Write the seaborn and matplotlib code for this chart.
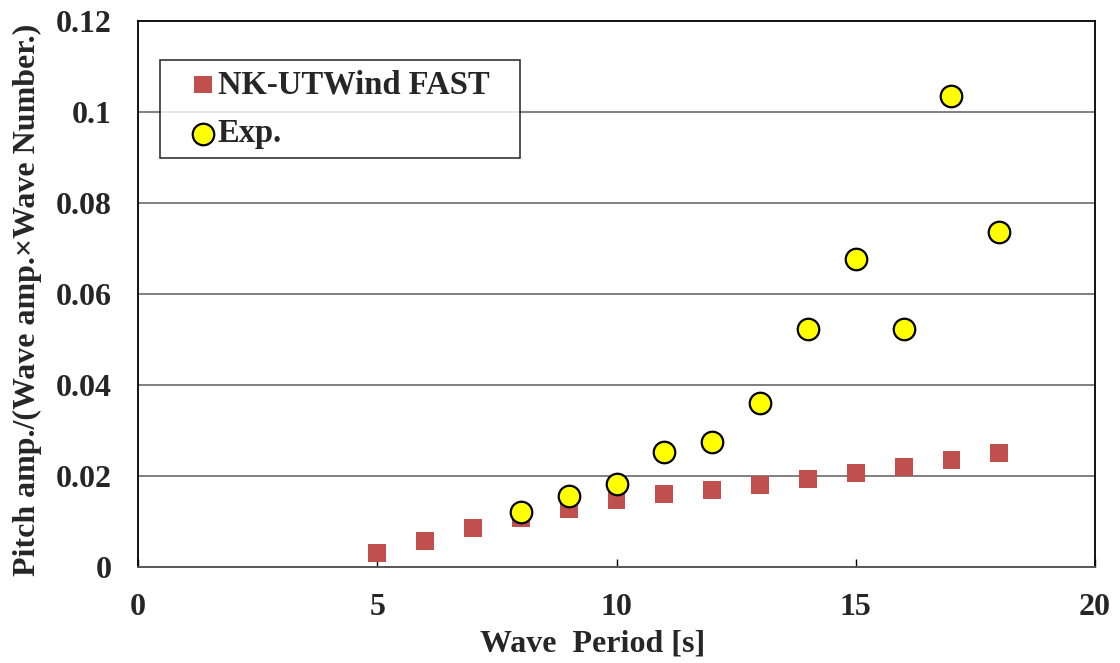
import numpy as np
import pandas as pd
import matplotlib
matplotlib.use("Agg")
import matplotlib.pyplot as plt
import seaborn as sns

# Wave periods [s]
fast_period = [5, 6, 7, 8, 9, 10, 11, 12, 13, 14, 15, 16, 17, 18]
fast_pitch = [0.0031, 0.0057, 0.0086, 0.0108, 0.0127, 0.0148, 0.0160, 0.0170,
              0.0181, 0.0194, 0.0206, 0.0219, 0.0236, 0.0250]

exp_period = [8, 9, 10, 11, 12, 13, 14, 15, 16, 17, 18]
exp_pitch = [0.0121, 0.0155, 0.0182, 0.0253, 0.0275, 0.0361, 0.0523, 0.0678,
             0.0522, 0.1035, 0.0737]

x_ticks = [0, 5, 10, 15, 20]
y_ticks = [0, 0.02, 0.04, 0.06, 0.08, 0.1, 0.12]
y_tick_labels = ["0", "0.02", "0.04", "0.06", "0.08", "0.1", "0.12"]

sns.set_theme(style="white")
plt.rcParams["font.family"] = ["Liberation Serif", "DejaVu Serif"]
plt.rcParams["font.weight"] = "bold"

fig = plt.figure(figsize=(11.2, 6.63), dpi=100)
ax = fig.add_axes([138 / 1120, 96 / 663, (1095 - 138) / 1120, (567 - 21) / 663])

fast_df = pd.DataFrame({"period": fast_period, "pitch": fast_pitch})
exp_df = pd.DataFrame({"period": exp_period, "pitch": exp_pitch})

for y in y_ticks[1:-1]:
    ax.axhline(y, color="#7f7f7f", lw=1.4, zorder=0)

square_size = 165
circle_size = 240
sns.scatterplot(data=fast_df, x="period", y="pitch", ax=ax, marker="s",
                s=square_size, color="#C0504D", edgecolor="none", linewidth=0,
                label="NK-UTWind FAST", zorder=3)
sns.scatterplot(data=exp_df, x="period", y="pitch", ax=ax, marker="o",
                s=circle_size, color="#FFFF00", edgecolor="black", linewidth=1.6,
                label="Exp.", zorder=4)

ax.set_xlim(0, 20)
ax.set_ylim(0, 0.12)
ax.set_xticks(x_ticks)
ax.set_yticks(y_ticks)
ax.set_yticklabels(y_tick_labels)
ax.tick_params(axis="x", direction="in", length=6, width=1, color="black",
               labelsize=23, pad=19, bottom=True)
ax.tick_params(axis="y", length=0, labelsize=23, pad=19)
for lab in ax.get_xticklabels() + ax.get_yticklabels():
    lab.set_fontweight("bold")

ax.set_xlabel("Wave  Period [s]", fontsize=23, fontweight="bold")
ax.xaxis.set_label_coords((593 - 138) / 957, -0.114)
ax.set_ylabel("Pitch amp./(Wave amp.×Wave Number.)", fontsize=23,
              fontweight="bold")
ax.yaxis.set_label_coords(-0.100, (567 - 300) / 546)

for side in ["left", "right", "top"]:
    ax.spines[side].set_color("black")
    ax.spines[side].set_linewidth(1.3)
ax.spines["bottom"].set_color("#555555")
ax.spines["bottom"].set_linewidth(1.4)

leg = ax.legend(loc="upper left",
                bbox_to_anchor=((160 - 138) / 957, 0.5, (520 - 160) / 957,
                                (567 - 60) / 546 - 0.5),
                mode="expand", frameon=True, fancybox=False, edgecolor="black",
                prop={"size": 23.5, "weight": "bold"}, handletextpad=-0.61,
                labelspacing=0.55, borderpad=0.28, handlelength=2.1,
                borderaxespad=0)
leg.get_frame().set_linewidth(1.2)
for handle, size in zip(leg.legend_handles, [square_size, circle_size]):
    handle.set_sizes([size])

fig.savefig("out.png", dpi=100)
